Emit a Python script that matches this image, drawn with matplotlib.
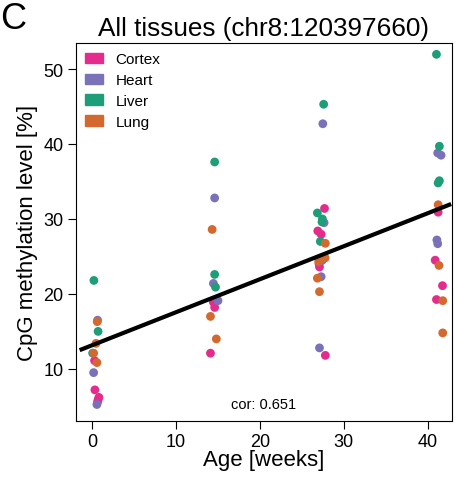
import matplotlib.pyplot as plt
from matplotlib.patches import Patch

plt.rcParams['font.family'] = ['Liberation Sans', 'DejaVu Sans']

tissues = ['Cortex', 'Heart', 'Liver', 'Lung']
colors = {'Cortex': '#E42C8C', 'Heart': '#7A72B8', 'Liver': '#1E9E78', 'Lung': '#D4692F'}

# age (weeks, jittered) and methylation level per tissue
cortex_age = [0.28, 0.32, 0.8, 0.64, 0.7, 14.45, 14.6, 14.1, 27.7, 26.9, 27.3, 27.1, 27.05, 27.8,
              41.25, 40.9, 41.77, 41.05]
cortex_val = [11.1, 7.2, 6.2, 5.6, 5.9, 18.9, 18.2, 12.1, 31.4, 28.4, 27.96, 23.6, 24.0, 11.8,
              30.9, 24.5, 21.1, 19.25]
heart_age = [0.64, 0.17, 0.56, 14.6, 14.45, 15.0, 27.5, 27.65, 27.45, 27.3, 27.1,
             41.2, 41.6, 41.1, 41.2]
heart_val = [16.5, 9.5, 5.25, 32.8, 21.4, 19.1, 42.7, 29.5, 24.5, 22.3, 12.8,
             38.8, 38.5, 27.2, 26.7]
liver_age = [0.2, 0.7, 0.05, 14.6, 14.6, 14.7, 27.6, 26.85, 27.45, 27.4, 27.2,
             41.05, 41.4, 41.4, 41.25]
liver_val = [21.8, 15.0, 12.1, 37.6, 22.6, 20.9, 45.3, 30.8, 30.0, 29.6, 27.0,
             51.96, 39.7, 35.1, 34.8]
lung_age = [0.6, 0.45, 0.17, 0.56, 14.3, 14.1, 14.8, 27.8, 27.77, 27.0, 26.85, 27.1,
            41.25, 41.35, 41.8, 41.8]
lung_val = [16.3, 13.4, 12.1, 10.84, 28.6, 17.0, 14.0, 26.75, 24.8, 24.3, 22.1, 20.3,
            31.9, 23.8, 19.1, 14.8]

fit_intercept = 13.16
fit_slope = 0.44
fit_x = [-1.27, 42.57]
cor_text = 'cor: 0.651'

fig = plt.figure(figsize=(4.57, 4.81), dpi=100)
ax = fig.add_axes([0.166, 0.123, 0.823, 0.7855])

data = {'Cortex': (cortex_age, cortex_val), 'Heart': (heart_age, heart_val),
        'Liver': (liver_age, liver_val), 'Lung': (lung_age, lung_val)}
for t in tissues:
    ages, vals = data[t]
    ax.scatter(ages, vals, s=40, color=colors[t], edgecolors='none', zorder=2)

ax.plot(fit_x, [fit_intercept + fit_slope * x for x in fit_x], color='black', lw=3, zorder=3)

ax.set_xlim(-1.95, 42.9)
ax.set_ylim(3.07, 53.47)
ax.set_xticks([0, 10, 20, 30, 40])
ax.set_yticks([10, 20, 30, 40, 50])
ax.tick_params(labelsize=13, length=6, direction='out', pad=3)
ax.set_xlabel('Age [weeks]', fontsize=16, labelpad=-1)
ax.set_ylabel('CpG methylation level [%]', fontsize=16, labelpad=4)
ax.set_title('All tissues (chr8:120397660)', fontsize=18.8, pad=6)
ax.text(0.5, 0.025, cor_text, transform=ax.transAxes, ha='center', va='bottom', fontsize=10.5)

handles = [Patch(color=colors[t], label=t) for t in tissues]
ax.legend(handles=handles, loc='upper left', frameon=False, fontsize=11,
          handlelength=1.2, handleheight=0.65, handletextpad=0.8, labelspacing=0.45,
          borderaxespad=0.2, bbox_to_anchor=(0.0, 1.0))

fig.text(0.0, 0.96, 'C', fontsize=26, ha='left', va='center')

fig.savefig('out.png', dpi=100)
